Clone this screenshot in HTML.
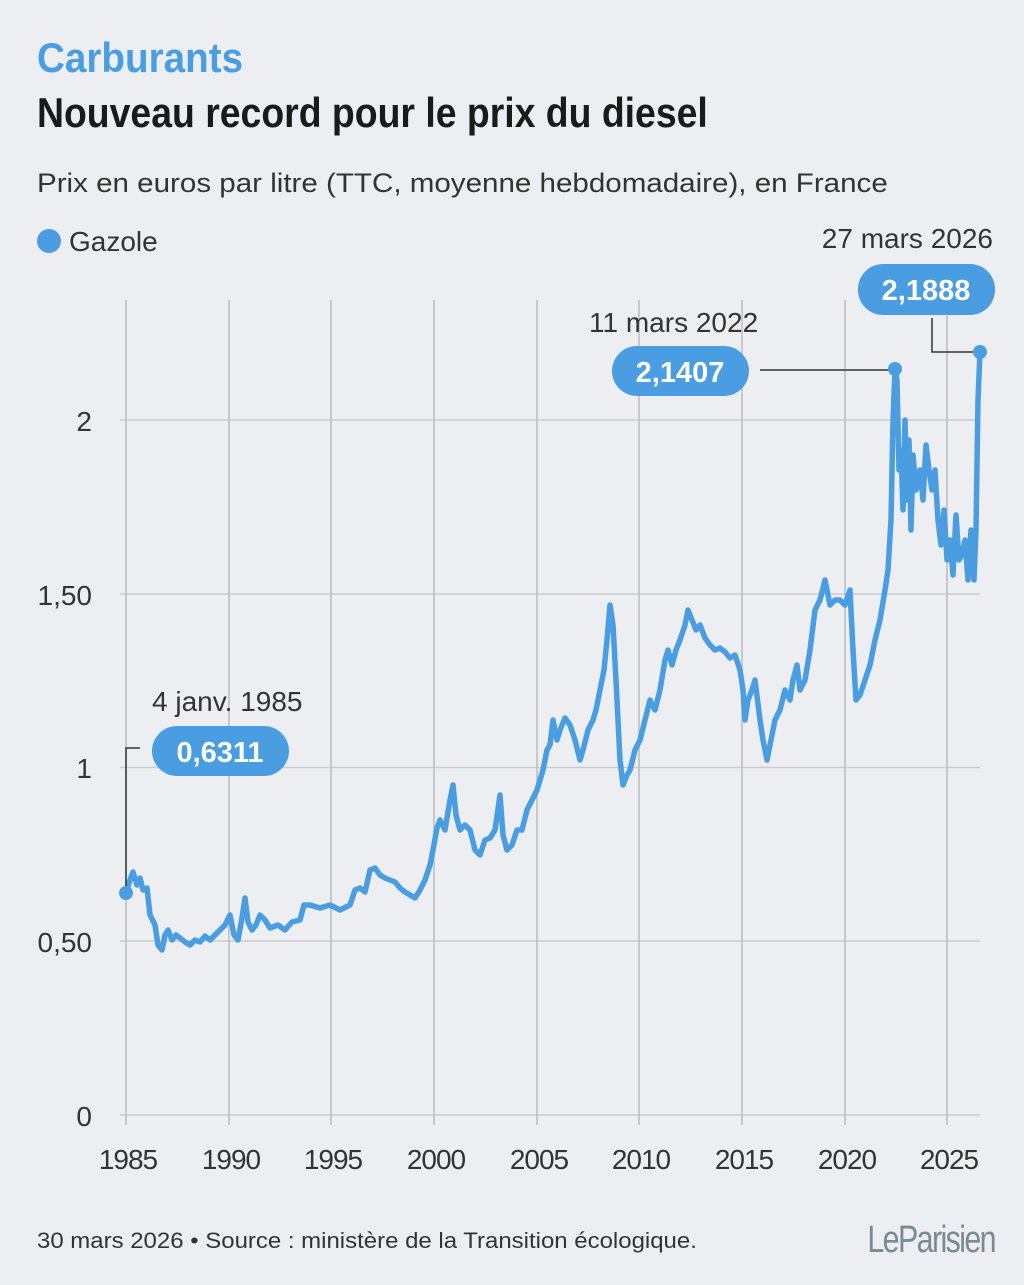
<!DOCTYPE html>
<html><head><meta charset="utf-8"><style>
html,body{margin:0;padding:0;background:#eceef1;}
body{width:1024px;height:1285px;overflow:hidden;position:relative;font-family:"Liberation Sans",sans-serif;}
</style></head><body>
<svg width="1024" height="1285" viewBox="0 0 1024 1285" xmlns="http://www.w3.org/2000/svg" style="position:absolute;left:0;top:0">
<rect width="1024" height="1285" fill="#eceef1"/>
<g font-family="Liberation Sans, sans-serif">
<text x="37" y="72" font-size="42" font-weight="bold" fill="#4a9de0" transform="translate(37 0) scale(0.92 1) translate(-37 0)">Carburants</text>
<text x="37" y="127" font-size="42" font-weight="bold" fill="#1a1a1a" transform="translate(37 0) scale(0.89 1) translate(-37 0)">Nouveau record pour le prix du diesel</text>
<text x="37" y="192" font-size="27" fill="#333" transform="translate(37 0) scale(1.095 1) translate(-37 0)">Prix en euros par litre (TTC, moyenne hebdomadaire), en France</text>
<circle cx="49" cy="241" r="12" fill="#4a9de0"/>
<text x="69" y="251" font-size="28" fill="#333">Gazole</text>
</g>
<g stroke="#c9cbce" stroke-width="1.5">
<line x1="120" y1="1115" x2="980" y2="1115"/>
<line x1="120" y1="941" x2="980" y2="941"/>
<line x1="120" y1="767.5" x2="980" y2="767.5"/>
<line x1="120" y1="594" x2="980" y2="594"/>
<line x1="120" y1="420" x2="980" y2="420"/>
</g>
<g stroke="#b9bbbe" stroke-width="1.5">
<line x1="126" y1="300" x2="126" y2="1125"/><line x1="229" y1="300" x2="229" y2="1125"/>
<line x1="331" y1="300" x2="331" y2="1125"/><line x1="434" y1="300" x2="434" y2="1125"/>
<line x1="537" y1="300" x2="537" y2="1125"/><line x1="639" y1="300" x2="639" y2="1125"/>
<line x1="742" y1="300" x2="742" y2="1125"/><line x1="845" y1="300" x2="845" y2="1125"/>
<line x1="947" y1="300" x2="947" y2="1125"/>
</g>
<g font-size="28" fill="#333" text-anchor="end" font-family="Liberation Sans, sans-serif">
<text x="92" y="1126">0</text><text x="92" y="952">0,50</text><text x="92" y="778">1</text><text x="92" y="605">1,50</text><text x="92" y="431">2</text>
</g>
<g font-size="28" fill="#333" text-anchor="middle" font-family="Liberation Sans, sans-serif" letter-spacing="-1">
<text x="128" y="1169">1985</text><text x="231" y="1169">1990</text><text x="333" y="1169">1995</text><text x="436" y="1169">2000</text><text x="539" y="1169">2005</text><text x="641" y="1169">2010</text><text x="744" y="1169">2015</text><text x="847" y="1169">2020</text><text x="949" y="1169">2025</text>
</g>
<polyline fill="none" stroke="#4a9de0" stroke-width="5.5" stroke-linejoin="round" points="126,893 130,880 133,872 137,885 140,878 143,890 147,888 150,915 155,925 158,945 162,950 165,935 168,930 172,940 176,935 180,938 185,942 190,945 195,940 200,942 205,936 210,940 215,935 220,930 225,925 230,915 234,935 238,940 242,918 245,898 248,922 252,930 256,925 260,915 265,920 270,928 278,925 285,930 292,922 300,920 304,905 310,905 320,908 330,905 340,910 350,905 355,890 360,888 365,892 370,870 375,868 380,875 385,878 390,880 395,882 400,888 405,892 410,895 415,898 420,890 425,880 430,865 433,850 437,828 440,820 445,830 450,800 453,785 456,815 460,830 465,825 470,830 475,850 480,855 485,840 490,838 495,830 500,795 503,835 507,850 512,845 517,830 522,830 527,810 532,800 537,790 540,780 543,770 547,750 550,745 553,720 557,740 560,730 565,718 570,725 575,740 580,760 583,750 588,730 593,720 596,710 600,690 604,670 607,640 610,605 613,625 616,680 620,760 623,785 627,775 630,770 635,750 640,740 645,720 650,700 655,710 660,690 665,660 668,650 672,665 676,650 680,640 685,625 688,610 692,620 696,630 700,625 705,638 710,645 715,650 720,648 725,652 730,658 735,655 740,670 743,690 745,720 748,700 752,690 755,680 760,720 763,740 767,760 770,745 775,720 780,710 785,690 790,700 793,680 797,665 800,690 805,680 810,650 815,610 820,600 825,580 830,605 835,600 840,600 845,605 850,590 853,650 856,700 860,695 865,680 870,665 875,640 880,620 885,590 888,570 891,520 893,420 895,370 897,380 899,470 901,450 903,510 905,420 907,500 909,440 911,530 913,455 916,490 920,470 923,500 926,445 929,470 932,490 935,470 938,520 941,545 944,510 947,560 950,540 953,575 956,515 959,560 962,555 965,540 968,580 971,530 974,580 976,530 978,400 980,352"/>
<g stroke="#333" stroke-width="1.5" fill="none">
<polyline points="126,890 126,748 140,748"/>
<polyline points="760,370 895,370"/>
<polyline points="932,318 932,352 975,352"/>
</g>
<circle cx="126" cy="893" r="7" fill="#4a9de0"/>
<circle cx="895" cy="369" r="7" fill="#4a9de0"/>
<circle cx="980" cy="352" r="7" fill="#4a9de0"/>
<g font-family="Liberation Sans, sans-serif">
<text x="152" y="711" font-size="28" fill="#333">4 janv. 1985</text>
<rect x="152" y="726" width="137" height="50" rx="25" fill="#4a9de0"/>
<text x="220" y="762" font-size="29" font-weight="bold" fill="#fff" text-anchor="middle">0,6311</text>
<text x="589" y="332" font-size="28" fill="#333">11 mars 2022</text>
<rect x="612" y="346" width="137" height="50" rx="25" fill="#4a9de0"/>
<text x="680" y="382" font-size="29" font-weight="bold" fill="#fff" text-anchor="middle">2,1407</text>
<text x="993" y="248" font-size="28" fill="#333" text-anchor="end">27 mars 2026</text>
<rect x="858" y="264" width="137" height="51" rx="25" fill="#4a9de0"/>
<text x="926" y="300" font-size="29" font-weight="bold" fill="#fff" text-anchor="middle">2,1888</text>
<text x="37" y="1248" font-size="22" fill="#333" transform="translate(37 0) scale(1.09 1) translate(-37 0)">30 mars 2026 • Source : ministère de la Transition écologique.</text>
<text x="995" y="1252" font-size="38" fill="#7a8a96" text-anchor="end" letter-spacing="-2" transform="translate(995 0) scale(0.8 1) translate(-995 0)">LeParisien</text>
</g>
</svg>
</body></html>
